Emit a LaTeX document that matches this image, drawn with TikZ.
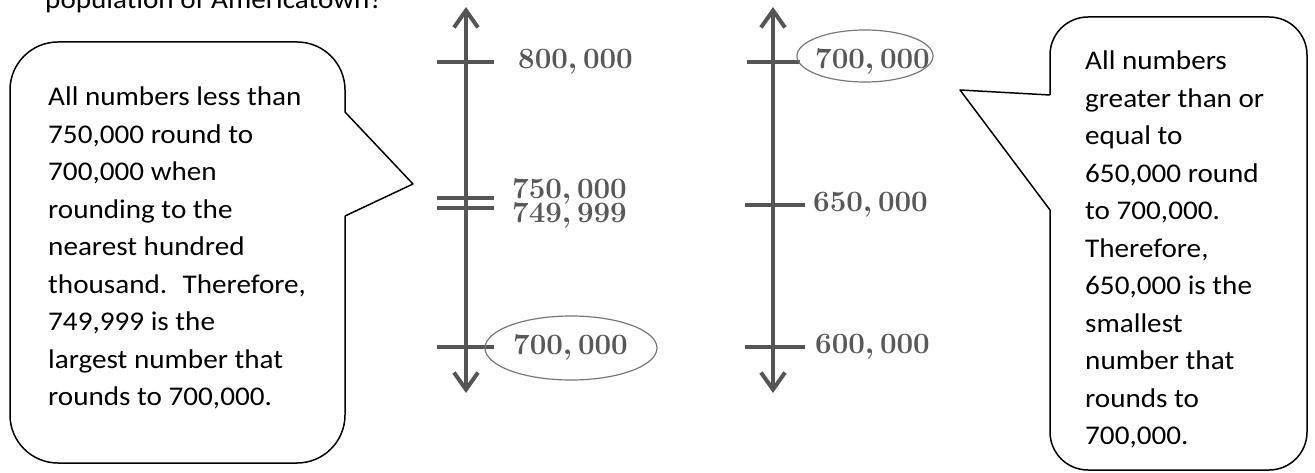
\RequirePackage{fix-cm}
\documentclass[tikz,border=0pt]{standalone}
\usepackage[no-math]{fontspec}
\setmainfont{Carlito}[FakeStretch=1.08]
\usetikzlibrary{arrows.meta, positioning}
\definecolor{axisgray}{RGB}{85,85,85}
\definecolor{labelgray}{RGB}{88,88,88}
\definecolor{ringgray}{RGB}{120,120,120}
\newcommand{\numlab}[1]{{\boldmath$#1$}}

\begin{document}
\begin{tikzpicture}[x=1pt, y=-1pt,
  callout/.style={draw=black, line width=1.5pt, line join=round},
  saying/.style={align=left, inner sep=0pt, font=\fontsize{27}{37.5}\selectfont},
  numline/.style={draw=axisgray, line width=4pt, {Straight Barb[length=17pt, width=24pt]}-{Straight Barb[length=17pt, width=24pt]}},
  tickmark/.style={draw=axisgray, line width=4pt},
  numtext/.style={text=labelgray, inner sep=0pt, anchor=west, font=\fontsize{29.5}{31}\selectfont},
  ring/.style={draw=ringgray, line width=1.2pt}]
  \useasboundingbox (0,0) rectangle (1315,473);

  % question text, cut off at the top
  \node[anchor=base west, inner sep=0pt, font=\fontsize{27}{32}\selectfont] (question) at (45,9) {population of Americatown?};

  % left callout
  \draw[callout, rounded corners=48pt] (345,112) -- (345,42) -- (10,42) -- (10,463) -- (345,463) -- (345,216);
  \draw[callout] (345,112) -- (413,184) -- (345,216);
  \node[saying, anchor=north west] (lefttext) at (48,87) {All numbers less than\\750,000 round to\\700,000 when\\rounding to the\\nearest hundred\\thousand.~ Therefore,\\749,999 is the\\largest number that\\rounds to 700,000.};

  % right callout
  \draw[callout, rounded corners=38pt] (1050,95) -- (1050,17) -- (1307,17) -- (1307,470) -- (1050,470) -- (1050,210);
  \draw[callout] (1050,95) -- (960,90) -- (1050,210);
  \node[saying, anchor=north west] (righttext) at (1085,51) {All numbers\\greater than or\\equal to\\650,000 round\\to 700,000.\\Therefore,\\650,000 is the\\smallest\\number that\\rounds to\\700,000.};

  % left number line
  \coordinate (ltop) at (466,7);
  \coordinate (lbot) at (466,393);
  \draw[numline] (ltop) -- (lbot);
  \foreach \y in {62,198,208,347}
    \draw[tickmark] (437,\y) -- (494,\y);
  \node[numtext] (l800) at (518,62) {\numlab{800,000}};
  \node[numtext, anchor=base west, text depth=0pt] (l750) at (512,199) {\numlab{750,000}};
  \node[numtext, anchor=base west] (l749) at (512,223) {\numlab{749,999}};
  \node[numtext] (l700) at (513,348) {\numlab{700,000}};
  \draw[ring] (571,348) ellipse [x radius=86pt, y radius=32pt];

  % right number line
  \coordinate (rtop) at (773,7);
  \coordinate (rbot) at (773,393);
  \draw[numline] (rtop) -- (rbot);
  \draw[tickmark] (747,62) -- (800,62);
  \foreach \y in {205,347}
    \draw[tickmark] (745,\y) -- (805,\y);
  \node[numtext] (r700) at (815,62) {\numlab{700,000}};
  \node[numtext] (r650) at (813,205) {\numlab{650,000}};
  \node[numtext] (r600) at (815,347) {\numlab{600,000}};
  \draw[ring] (865,56) ellipse [x radius=68pt, y radius=26pt];
\end{tikzpicture}
\end{document}
